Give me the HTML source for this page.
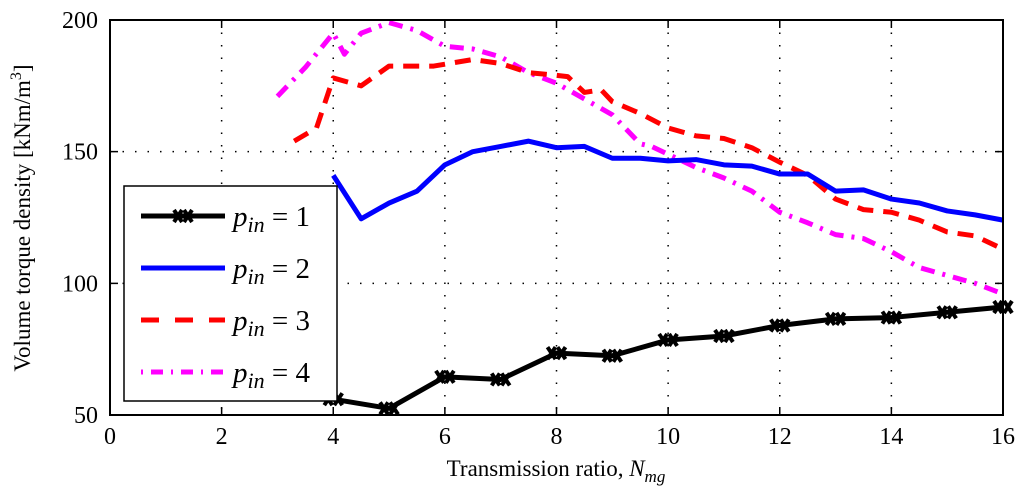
<!DOCTYPE html>
<html><head><meta charset="utf-8"><style>
html,body{margin:0;padding:0;background:#fff;}
svg{display:block;font-family:"Liberation Serif",serif;}
</style></head><body>
<svg id="chart" width="1024" height="501">
<g id="grid"></g>
<g id="series"></g>
<rect x="110" y="20" width="893" height="395" fill="none" stroke="#000" stroke-width="2"/>
<g id="ticks"></g>
<text x="556" y="476" text-anchor="middle" font-size="23">Transmission ratio, <tspan font-style="italic">N</tspan><tspan font-style="italic" font-size="17" dy="6">mg</tspan></text>
<text transform="translate(30,218) rotate(-90)" text-anchor="middle" font-size="23">Volume torque density [kNm/m<tspan font-size="16" dy="-9">3</tspan><tspan dy="9">]</tspan></text>
<g id="legend"></g>
</svg>
<script>
const xTicks=[0,2,4,6,8,10,12,14,16];
const yTicks=[50,100,150,200];
const x1=[4,5,6,7,8,9,10,11,12,13,14,15,16];
const y1=[56,52.5,64.5,63.5,73.5,72.5,78.5,80,84,86.5,87,89,91];
const x2=[4,4.5,5,5.5,6,6.5,7,7.5,8,8.5,9,9.5,10,10.5,11,11.5,12,12.5,13,13.5,14,14.5,15,15.5,16];
const y2=[141,124.5,130.5,135,145,150,152,154,151.5,152,147.5,147.5,146.5,147,145,144.5,141.5,141.5,135,135.5,132,130.5,127.5,126,124];
const x3=[3.3,3.7,4,4.5,5,5.5,5.8,6.5,7,7.5,8,8.2,8.5,8.8,9,9.5,10,10.5,11,11.5,12,12.5,13,13.5,14,14.5,15,15.5,16];
const y3=[154,159,178,175,182.5,182.5,182.5,185,183.5,180,179,178.5,172.5,173.5,169,164.5,159,156,155,151.5,146,141,132,128,127,124,119.5,118,113];
const x4=[3,3.5,4,4.2,4.5,5,5.5,6,6.5,7,7.5,8,8.5,9,9.5,9.7,10,10.5,11,11.5,12,12.5,13,13.5,14,14.5,15,15.5,16];
const y4=[171,182,195,187,195,199,196,190,189,186,180,176,170,164,153,152,149,144,140,135,127,123,118.5,117,112,106,103,100,96];
const labels=["1","2","3","4"];
const X=v=>110+v*(893/16);
const Y=v=>415-(v-50)*(395/150);
const NS="http://www.w3.org/2000/svg";
function mk(t,a,p){const e=document.createElementNS(NS,t);for(const k in a)e.setAttribute(k,a[k]);p.appendChild(e);return e;}
const grid=document.getElementById('grid'),ticks=document.getElementById('ticks'),ser=document.getElementById('series'),leg=document.getElementById('legend');
xTicks.forEach(t=>{
 if(t>0&&t<16){const g=mk('line',{x1:X(t),x2:X(t),y1:20,y2:415,stroke:'#000','stroke-width':1.5,'stroke-dasharray':'1.5 11'},grid);
 
 }
 const tk=mk('path',{d:`M${X(t)},415v-8M${X(t)},20v8`,stroke:'#000','stroke-width':1.5},ticks);
 
 
 const l=mk('text',{x:X(t),y:444,'text-anchor':'middle','font-size':24},ticks);l.textContent=t;
 
 
});
yTicks.forEach(t=>{
 if(t>50&&t<200){const g=mk('line',{x1:110,x2:1003,y1:Y(t),y2:Y(t),stroke:'#000','stroke-width':1.5,'stroke-dasharray':'1.5 11'},grid);
 
 }
 const tk=mk('path',{d:`M110,${Y(t)}h8M1003,${Y(t)}h-8`,stroke:'#000','stroke-width':1.5},ticks);
 
 
 const l=mk('text',{x:98,y:Y(t)+8,'text-anchor':'end','font-size':24},ticks);l.textContent=t;
 
 
});
const styles=[
 {c:'#000',d:'',n:'series-pin-1'},
 {c:'#0000ff',d:'',n:'series-pin-2'},
 {c:'#ff0000',d:'16 10',n:'series-pin-3'},
 {c:'#ff00ff',d:'14 8 3 8',n:'series-pin-4'}];
function xmark(cx,cy,p){
 const e=mk('path',{d:`M${cx-9},${cy-6}l8,12M${cx-9},${cy+6}l8,-12M${cx+1},${cy-6}l8,12M${cx+1},${cy+6}l8,-12`,stroke:'#000','stroke-width':4},p);
 
 
}
[[x4,y4],[x3,y3],[x2,y2],[x1,y1]].forEach((s,ri)=>{
 const i=3-ri,st=styles[i];
 const pts=s[0].map((x,j)=>X(x)+','+Y(s[1][j])).join(' ');
 const pl=mk('polyline',{points:pts,fill:'none',stroke:st.c,'stroke-width':5,'stroke-dasharray':st.d,'stroke-linejoin':'round'},ser);
 
 
 if(i===0)s[0].forEach((x,j)=>xmark(X(x),Y(s[1][j]),ser));
});
const box=mk('rect',{x:124,y:186,width:213,height:215,fill:'#fff',stroke:'#000','stroke-width':1.5},leg);


labels.forEach((lb,i)=>{
 const y=216+i*52,st=styles[i];
 const g=mk('g',{},leg);
 
 
 mk('line',{x1:141,x2:225,y1:y,y2:y,stroke:st.c,'stroke-width':5,'stroke-dasharray':i==2?'18 16':(i==3?'2 8 12 8':'')},g);
 if(i===0)xmark(183,y,g);
 const t=mk('text',{x:233,y:y+10,'font-size':29},g);
 t.innerHTML=`<tspan font-style="italic">p</tspan><tspan font-style="italic" font-size="22" dy="6">in</tspan><tspan dy="-6"> = ${lb}</tspan>`;
});
</script>
</body></html>
